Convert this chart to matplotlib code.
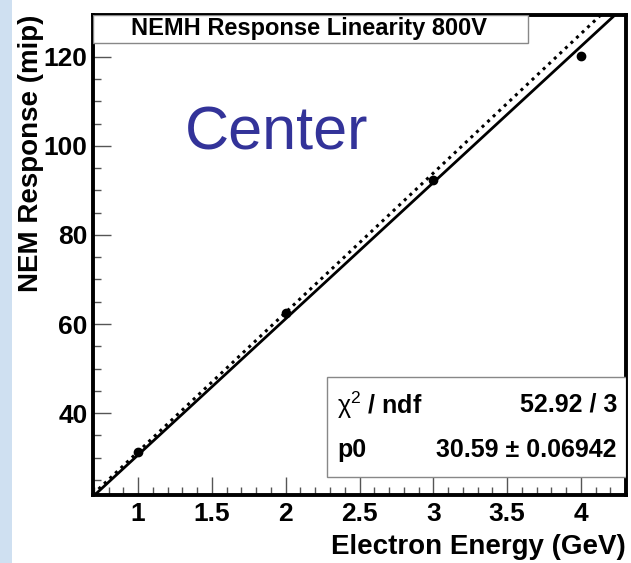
import numpy as np
import matplotlib
matplotlib.use("Agg")
import matplotlib.pyplot as plt
from matplotlib.patches import Rectangle
from matplotlib.ticker import MultipleLocator, FormatStrFormatter

plt.rcParams["font.family"] = ["Liberation Sans", "DejaVu Sans"]
plt.rcParams["mathtext.fontset"] = "custom"
plt.rcParams["mathtext.rm"] = "Liberation Sans"
plt.rcParams["mathtext.it"] = "Liberation Sans:italic"
plt.rcParams["mathtext.bf"] = "Liberation Sans:bold"

# =========================
# Data
# =========================
energy = [1, 2, 3, 4]                 # GeV
response = [31.3, 62.4, 92.4, 120.1]  # mip
p0 = 30.59                            # fit slope
ideal_slope = 31.3                    # dotted reference line
title = "NEMH Response Linearity 800V"
stats_rows = [("$\\mathrm{\u03c7}^{2}$ / ndf", "52.92 / 3"),
              ("p0", "30.59 \u00b1 0.06942")]

# =========================
# Figure
# =========================
fig = plt.figure(figsize=(6.31, 5.63), dpi=100)
fig.patch.set_facecolor("white")
fig.patches.append(Rectangle((0, 0), 12 / 631, 1, transform=fig.transFigure,
                             facecolor="#cfe0f1", edgecolor="none", zorder=0))

ax = fig.add_axes([93 / 631, 1 - 495 / 563, 533 / 631, 480 / 563])
ax.set_xlim(0.695, 4.305)
ax.set_ylim(21.6, 129.4)

xs = np.array(ax.get_xlim())
ax.plot(xs, p0 * xs, color="black", lw=2.0, zorder=3)
ax.plot(xs, ideal_slope * xs, color="black", lw=2.2, ls=(0, (1, 1.5)), zorder=3)
ax.plot(energy, response, "o", color="black", ms=6, zorder=4)

for s in ax.spines.values():
    s.set_linewidth(2.8)

ax.xaxis.set_major_locator(MultipleLocator(0.5))
ax.xaxis.set_minor_locator(MultipleLocator(0.1))
ax.yaxis.set_major_locator(MultipleLocator(20))
ax.yaxis.set_minor_locator(MultipleLocator(5))
ax.xaxis.set_major_formatter(FormatStrFormatter("%g"))
ax.tick_params(which="both", direction="in", color="#555555", width=1,
               labelsize=19)
ax.tick_params(which="major", length=13)
ax.tick_params(which="minor", length=6)
ax.tick_params(axis="x", pad=5)
ax.tick_params(axis="y", pad=4)
for lab in ax.get_xticklabels() + ax.get_yticklabels():
    lab.set_fontweight("bold")

ax.set_xlabel("Electron Energy (GeV)", fontsize=20, fontweight="bold",
              loc="right", labelpad=6)
ax.set_ylabel("NEM Response (mip)", fontsize=20, fontweight="bold",
              loc="top", labelpad=0)

# title box
ax.add_patch(Rectangle((0, 0.942), 0.816, 0.058, transform=ax.transAxes,
                       facecolor="white", edgecolor="#888888", lw=1, zorder=5))
ax.text(0.405, 0.971, title, transform=ax.transAxes, ha="center",
        va="center", fontsize=17, fontweight="bold", zorder=6)

# stats box
ax.add_patch(Rectangle((0.439, 0.0375), 0.561, 0.2085, transform=ax.transAxes,
                       facecolor="white", edgecolor="#888888", lw=1, zorder=5))
for (name, val), y in zip(stats_rows, [0.1875, 0.094]):
    ax.text(0.458, y, name, transform=ax.transAxes, ha="left", va="center",
            fontsize=18, fontweight="bold", zorder=6)
    ax.text(0.983, y, val, transform=ax.transAxes, ha="right", va="center",
            fontsize=18, fontweight="bold", zorder=6)

ax.text(0.173, 0.719, "Center", transform=ax.transAxes, ha="left",
        va="baseline", fontsize=44, color="#333399", zorder=6)

fig.savefig("out.png", dpi=100)
